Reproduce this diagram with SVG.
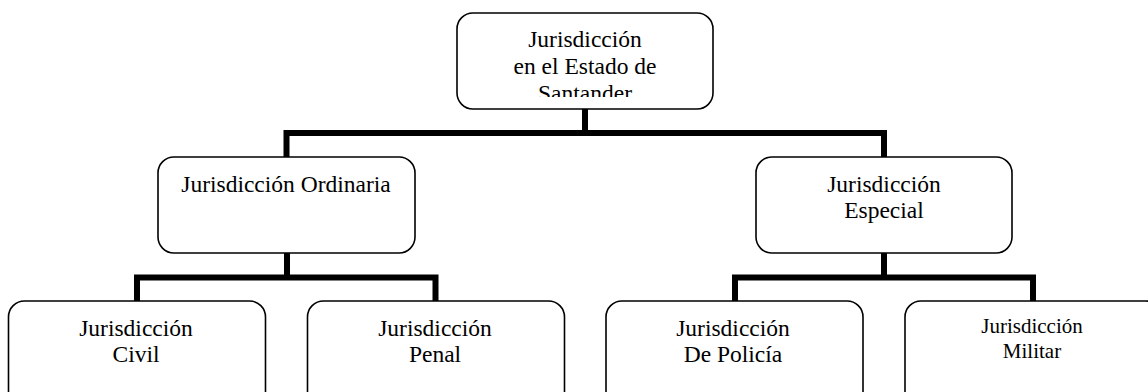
<svg xmlns="http://www.w3.org/2000/svg" width="1148" height="392" viewBox="0 0 1148 392">
<style>
.box{fill:#fff;stroke:#000;stroke-width:1.6}
.t{font-family:"Liberation Serif","Times New Roman",serif;font-size:23.5px;fill:#000;text-anchor:middle}
.s{font-size:21px}
.c{fill:none;stroke:#000;stroke-width:6;stroke-linejoin:miter;stroke-linecap:butt}
</style>
<defs>
<clipPath id="clipTop"><rect x="457" y="13" width="256" height="84"/></clipPath>
</defs>
<rect width="1148" height="392" fill="#fff"/>
<g id="connectors">
<path class="c" d="M585,109 V133"/>
<path class="c" d="M286.5,157 V133 H884 V157"/>
<path class="c" d="M287,253 V277.5"/>
<path class="c" d="M137,301 V277.5 H435.5 V301"/>
<path class="c" d="M884,253 V277.5"/>
<path class="c" d="M735,301 V277.5 H1033 V301"/>
</g>
<g id="node-root">
<rect class="box" x="457" y="13" width="256" height="96" rx="16"/>
<g clip-path="url(#clipTop)">
<text class="t" x="585" y="47">Jurisdicción</text>
<text class="t" x="585" y="74">en el Estado de</text>
<text class="t" x="585" y="101">Santander</text>
</g>
</g>
<g id="node-ordinaria">
<rect class="box" x="158" y="157" width="257" height="96" rx="16"/>
<text class="t" x="286" y="192">Jurisdicción Ordinaria</text>
</g>
<g id="node-especial">
<rect class="box" x="756" y="157" width="256" height="96" rx="16"/>
<text class="t" x="884" y="192">Jurisdicción</text>
<text class="t" x="884" y="218">Especial</text>
</g>
<g id="node-civil">
<rect class="box" x="8.5" y="301" width="257" height="110" rx="16"/>
<text class="t" x="136" y="336">Jurisdicción</text>
<text class="t" x="136" y="362">Civil</text>
</g>
<g id="node-penal">
<rect class="box" x="307.5" y="301" width="257" height="110" rx="16"/>
<text class="t" x="435" y="336">Jurisdicción</text>
<text class="t" x="435" y="362">Penal</text>
</g>
<g id="node-policia">
<rect class="box" x="606" y="301" width="257" height="110" rx="16"/>
<text class="t" x="733" y="336">Jurisdicción</text>
<text class="t" x="733" y="362">De Policía</text>
</g>
<g id="node-militar">
<rect class="box" x="905" y="301" width="257" height="110" rx="16"/>
<text class="t s" x="1032" y="333">Jurisdicción</text>
<text class="t s" x="1032" y="358">Militar</text>
</g>
</svg>
